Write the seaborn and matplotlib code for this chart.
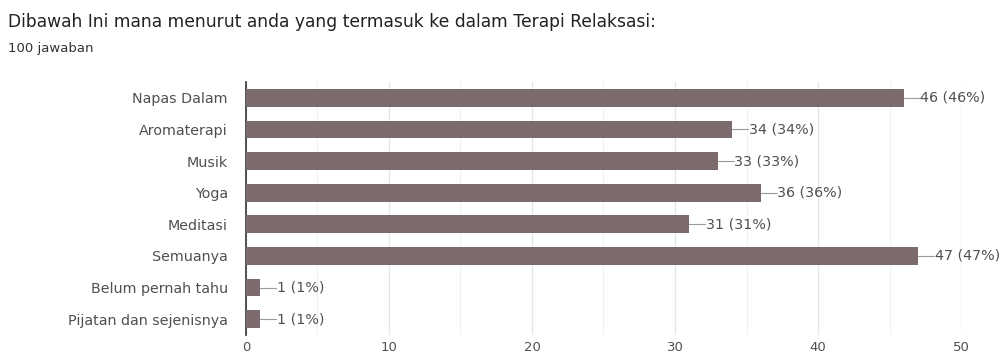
import matplotlib
matplotlib.use("Agg")
import matplotlib.pyplot as plt
import seaborn as sns
import pandas as pd
from matplotlib.ticker import MultipleLocator

categories = [
    "Napas Dalam",
    "Aromaterapi",
    "Musik",
    "Yoga",
    "Meditasi",
    "Semuanya",
    "Belum pernah tahu",
    "Pijatan dan sejenisnya",
]
counts = [46, 34, 33, 36, 31, 47, 1, 1]
total_responses = 100
x_ticks = [0, 10, 20, 30, 40, 50]

title = "Dibawah Ini mana menurut anda yang termasuk ke dalam Terapi Relaksasi:"
subtitle = f"{total_responses} jawaban"

df = pd.DataFrame({"kategori": categories, "jumlah": counts})

sns.set_style("white")
plt.rcParams["font.family"] = ["DejaVu Sans"]

bar_color = "#7b6b6c"
text_color = "#505050"

fig = plt.figure(figsize=(10.06, 3.58), dpi=100)
ax = fig.add_axes([0.2445, 0.0642, 0.9553 - 0.2445, 0.771 - 0.0642])

sns.barplot(data=df, x="jumlah", y="kategori", orient="h", color=bar_color,
            width=0.56, saturation=1, linewidth=0, ax=ax, zorder=3)

ax.set_xlim(0, 50)
ax.set_ylim(len(categories) - 0.5, -0.5)
ax.xaxis.set_major_locator(MultipleLocator(10))
ax.xaxis.set_minor_locator(MultipleLocator(5))
ax.grid(axis="x", which="major", color="#e4e4e4", linewidth=0.9, zorder=0)
ax.grid(axis="x", which="minor", color="#f2f2f2", linewidth=0.9, zorder=0)
ax.set_axisbelow(True)

for s in ["top", "right", "bottom"]:
    ax.spines[s].set_visible(False)
ax.spines["left"].set_color("#333333")
ax.spines["left"].set_linewidth(1.2)

ax.set_xlabel("")
ax.set_ylabel("")
ax.tick_params(axis="y", length=0, labelsize=10.3, colors=text_color, pad=13)
ax.tick_params(axis="x", length=0, labelsize=9.5, colors=text_color, pad=4)
ax.set_xticks(x_ticks)

# value callouts: short leader line then "n (p%)"
for i, v in enumerate(counts):
    pct = round(100 * v / total_responses)
    ax.plot([v, v + 1.1], [i, i], color="#9a9a9a", linewidth=0.8, zorder=4,
            clip_on=False)
    ax.text(v + 1.15, i, f"{v} ({pct}%)", va="center", ha="left",
            fontsize=10.3, color=text_color, zorder=5)

fig.text(0.008, 1 - 27 / 358, title, fontsize=12.3, color="#222222",
         va="baseline", ha="left")
fig.text(0.008, 1 - 52 / 358, subtitle, fontsize=9.5, color="#333333",
         va="baseline", ha="left")

fig.savefig("out.png", dpi=100, facecolor="white")
